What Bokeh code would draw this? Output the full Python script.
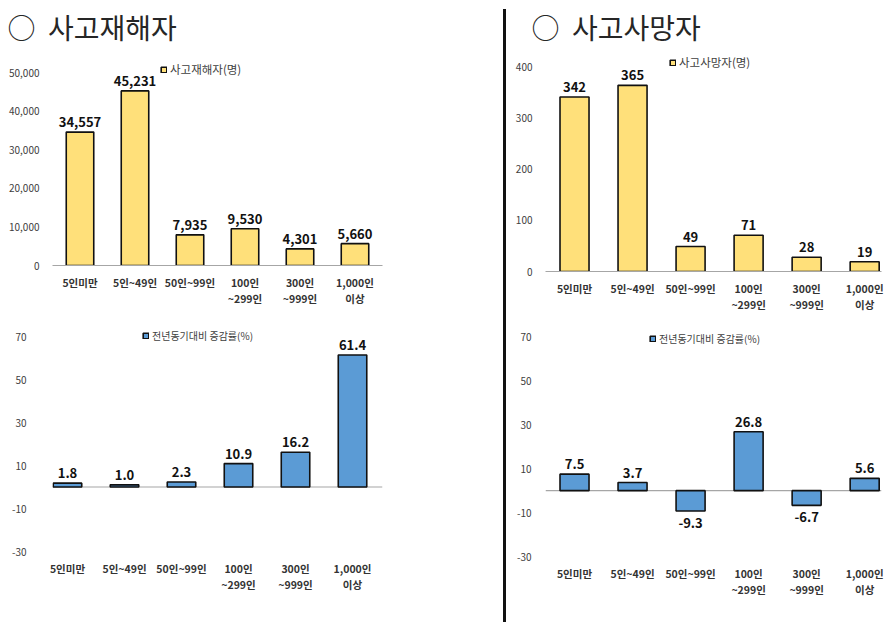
from bokeh.plotting import figure
from bokeh.models import (Range1d, FixedTicker, NumeralTickFormatter, Span,
                          Legend, LegendItem, ColumnDataSource, Div)
from bokeh.layouts import row, column
from bokeh.embed import file_html
from bokeh.resources import INLINE
from bokeh.core.properties import value

categories = ["5인미만", "5인~49인", "50인~99인", "100인\n~299인", "300인\n~999인", "1,000인\n이상"]
injured = [34557, 45231, 7935, 9530, 4301, 5660]
injured_change = [1.8, 1.0, 2.3, 10.9, 16.2, 61.4]
deaths = [342, 365, 49, 71, 28, 19]
deaths_change = [7.5, 3.7, -9.3, 26.8, -6.7, 5.6]
injured_ticks = [0, 10000, 20000, 30000, 40000, 50000]
deaths_ticks = [0, 100, 200, 300, 400]
change_ticks = [-30, -10, 10, 30, 50, 70]

FONT = "Noto Sans CJK KR"
YELLOW = "#FFE07A"
BLUE = "#5B9BD5"
NB = "\u00a0"


def panel(values, ticks, tick_fmt, label_fmt, color, legend_text, legend_size,
          frame, borders, x_range, y_range, y_standoff, legend_xy, zero_span,
          title=None, title_offset=0):
    fw, fh = frame
    l, r, t, b = borders
    p = figure(frame_width=fw, frame_height=fh, output_backend="svg", toolbar_location=None,
               x_range=Range1d(*x_range), y_range=Range1d(*y_range),
               min_border_left=l, min_border_right=r, min_border_top=t, min_border_bottom=b,
               outline_line_color=None, background_fill_color="white",
               border_fill_color="white")
    p.grid.visible = False
    xs = list(range(len(categories)))
    src = ColumnDataSource(dict(
        x=xs, top=values,
        label=[label_fmt(v) for v in values],
        yoff=[-10 if v >= 0 else 12 for v in values]))
    if zero_span:
        p.add_layout(Span(location=0, dimension="width", line_color="#A6A6A6",
                          line_width=1.2, level="underlay"))
    rend = p.vbar(x="x", top="top", bottom=0, width=0.5, source=src,
                  fill_color=color, line_color="#111111", line_width=1.6)
    p.text(x="x", y="top", text="label", y_offset="yoff", source=src,
           text_align="center", text_baseline="middle", text_font=value(FONT),
           text_font_size="13px", text_font_style="bold", text_color="#111111")

    xa = p.xaxis[0]
    xa.ticker = FixedTicker(ticks=xs)
    xa.major_label_overrides = {i: c for i, c in enumerate(categories)}
    xa.axis_line_color = None if zero_span else "#A6A6A6"
    xa.axis_line_width = 1.2
    xa.major_tick_line_color = None
    xa.minor_tick_line_color = None
    xa.major_tick_out = 0
    xa.major_tick_in = 0
    xa.minor_tick_out = 0
    xa.major_label_standoff = 9
    xa.major_label_text_font = FONT
    xa.major_label_text_font_size = "10.5px"
    xa.major_label_text_font_style = "bold"
    xa.major_label_text_color = "#333333"
    xa.major_label_text_line_height = 1.12

    ya = p.yaxis[0]
    ya.ticker = FixedTicker(ticks=ticks)
    ya.formatter = NumeralTickFormatter(format=tick_fmt)
    ya.axis_line_color = None
    ya.major_tick_line_color = None
    ya.minor_tick_line_color = None
    ya.major_tick_out = 0
    ya.major_tick_in = 0
    ya.minor_tick_out = 0
    ya.major_label_standoff = y_standoff
    ya.major_label_text_font = FONT
    ya.major_label_text_font_size = "10px"
    ya.major_label_text_color = "#404040"

    leg = Legend(items=[LegendItem(label=legend_text, renderers=[rend])],
                 location=legend_xy, glyph_width=7, glyph_height=7, label_standoff=3,
                 padding=0, margin=0, spacing=0, border_line_color=None,
                 background_fill_alpha=0, label_height=10,
                 label_text_font=FONT, label_text_font_size=legend_size,
                 label_text_color="#404040")
    p.add_layout(leg)

    if title:
        p.title.text = title
        p.title.text_font = FONT
        p.title.text_font_size = "28px"
        p.title.text_font_style = "normal"
        p.title.text_color = "#262626"
        p.title.align = "left"
        p.title.offset = title_offset
        p.title.standoff = 1
    return p


fmt_int = lambda v: f"{v:,}"
fmt_pct = lambda v: f"{v:.1f}"

tl = panel(injured, injured_ticks, "0,0", fmt_int, YELLOW, "사고재해자(명)", "11.5px",
           (330, 218), (52, 121, 47, 52), (-0.5, 5.5), (0, 56477), 13, (108, 188), False,
           title="○" + NB + NB + "사고재해자", title_offset=-45)
bl = panel(injured_change, change_ticks, "0", fmt_pct, BLUE, "전년동기대비 증감률(%)", "10px",
           (330, 224), (52, 121, 10, 58), (-0.263, 5.526), (-30, 74.2), 26, (90, 208), True)
tr = panel(deaths, deaths_ticks, "0,0", fmt_int, YELLOW, "사고사망자(명)", "11.5px",
           (336, 224), (39, 3, 47, 46), (-0.5, 5.29), (0, 439.2), 13, (124, 201), False,
           title="○" + NB + NB + "사고사망자", title_offset=-14)
br = panel(deaths_change, change_ticks, "0", fmt_pct, BLUE, "전년동기대비 증감률(%)", "10px",
           (336, 229), (39, 3, 10, 53), (-0.5, 5.29), (-30, 74.3), 14, (104, 210), True)

divider = Div(width=3, height=613, margin=(9, 0, 0, 0), styles={"background-color": "#111111"})

layout = row(column(tl, bl, spacing=0), divider, column(tr, br, spacing=0), spacing=0)

open("out.html", "w").write(file_html(layout, INLINE))
